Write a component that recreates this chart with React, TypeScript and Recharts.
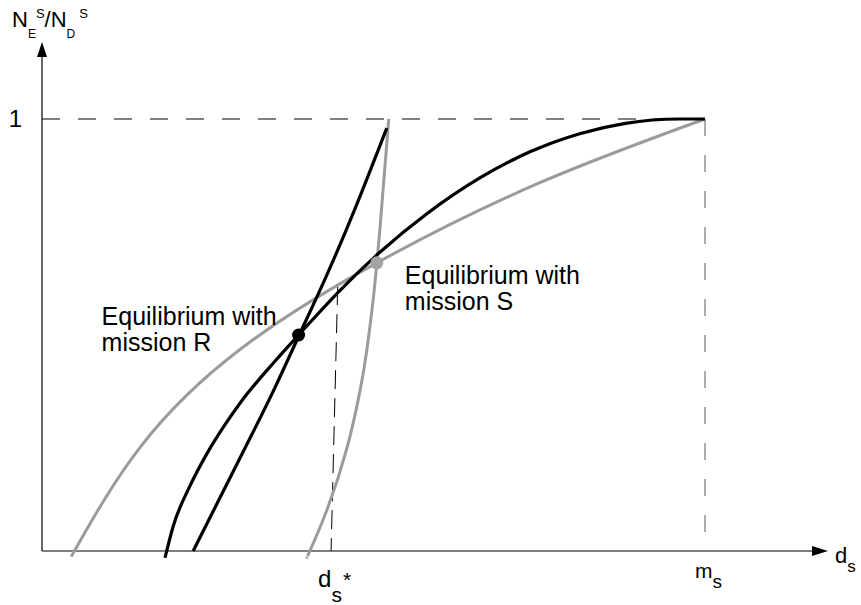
import React from 'react';
import { ComposedChart, Line, XAxis, YAxis, ReferenceLine, ReferenceDot } from 'recharts';

const FONT = '"Liberation Sans", Arial, sans-serif';
const BLACK = '#000000';
const GRAY = '#9b9b9b';

// horizontal axis: d_s scaled so that m_s = 1; vertical axis: N_E^S / N_D^S
const X_MAX = 1.1855;
const Y_MIN = -0.0625;
const Y_MAX = 1.1782;
const M_S = 1;
const D_S_STAR = 0.436;

// gray concave curve (mission S), ends at (m_s, 1)
const grayConcaveX = [0.044, 0.15, 0.3, 0.505, 0.75, 1];
const grayConcaveY = [-0.013, 0.244, 0.468, 0.667, 0.852, 1];

// gray steep convex curve (mission S)
const grayConvexX = [0.4, 0.404, 0.43, 0.46, 0.48, 0.49, 0.5, 0.505, 0.51, 0.523];
const grayConvexY = [-0.0135, 0, 0.096, 0.2385, 0.3735, 0.466, 0.5885, 0.667, 0.752, 1];

// black concave curve (mission R), flat at the top
const blackConcaveX = [0.1855, 0.198, 0.223, 0.249, 0.275, 0.3, 0.35, 0.387, 0.45, 0.51, 0.58, 0.661, 0.736, 0.811, 0.88, 0.96, 1];
const blackConcaveY = [-0.016, 0.058, 0.15, 0.226, 0.29, 0.345, 0.437, 0.5, 0.604, 0.692, 0.78, 0.864, 0.924, 0.966, 0.99, 1, 1];

// black steep curve (mission R)
const blackSteepX = [0.228, 0.268, 0.314, 0.351, 0.388, 0.427, 0.472, 0.52];
const blackSteepY = [0, 0.122, 0.262, 0.377, 0.5, 0.63, 0.792, 0.979];

const equilibriumR = { x: 0.387, y: 0.5 };
const equilibriumS = { x: 0.505, y: 0.667 };
const dsStarTop = { x: 0.446, y: 0.613 };

const toPoints = (xs: number[], ys: number[]) => xs.map((x, i) => ({ x, y: ys[i] }));

const grayConcave = toPoints(grayConcaveX, grayConcaveY);
const grayConvex = toPoints(grayConvexX, grayConvexY);
const blackConcave = toPoints(blackConcaveX, blackConcaveY);
const blackSteep = toPoints(blackSteepX, blackSteepY);

const ArrowUp = ({ cx, cy }: any) => (
  <polygon points={`${cx},${cy} ${cx - 5},${cy + 15} ${cx + 5},${cy + 15}`} fill={BLACK} />
);

const ArrowRight = ({ cx, cy }: any) => (
  <polygon points={`${cx},${cy} ${cx - 16},${cy - 5} ${cx - 16},${cy + 5}`} fill={BLACK} />
);

const YTitle = ({ cx, cy }: any) => (
  <text x={cx - 30} y={cy - 15} fontFamily={FONT} fontSize={22} fill={BLACK}>
    N
    <tspan dy={11} fontSize={12}>E</tspan>
    <tspan dy={-20} fontSize={13}>S</tspan>
    <tspan dy={9} fontSize={22}>/N</tspan>
    <tspan dy={11} fontSize={12}>D</tspan>
    <tspan dy={-20} dx={4} fontSize={13}>S</tspan>
  </text>
);

const OneTick = ({ cx, cy }: any) => (
  <text x={cx - 20} y={cy} dominantBaseline="central" textAnchor="end" fontFamily={FONT} fontSize={24} fill={BLACK}>
    1
  </text>
);

const XTitle = ({ cx, cy }: any) => (
  <text x={cx + 7} y={cy + 12} fontFamily={FONT} fontSize={22} fill={BLACK}>
    d
    <tspan dy={9} fontSize={17}>s</tspan>
  </text>
);

const MsTick = ({ cx, cy }: any) => (
  <text x={cx - 10} y={cy + 27} fontFamily={FONT} fontSize={21} fill={BLACK}>
    m
    <tspan dy={10} fontSize={19}>s</tspan>
  </text>
);

const DsStarTick = ({ cx, cy }: any) => (
  <text x={cx - 13} y={cy + 36} fontFamily={FONT} fontSize={24} fill={BLACK}>
    d
    <tspan dy={15} fontSize={21}>s</tspan>
    <tspan dy={-15} dx={1} fontSize={21}>*</tspan>
  </text>
);

const EquilibriumDot = (fill: string, label: string, dx: number, dy: number) => ({ cx, cy }: any) => (
  <g>
    <circle cx={cx} cy={cy} r={6.5} fill={fill} />
    <text x={cx + dx} y={cy + dy} fontFamily={FONT} fontSize={25} fill={BLACK}>
      <tspan x={cx + dx}>Equilibrium with</tspan>
      <tspan x={cx + dx} dy={26}>{label}</tspan>
    </text>
  </g>
);

export default function App() {
  return (
    <div style={{ position: 'absolute', left: 0, top: 0, background: '#fff' }}>
      <ComposedChart width={861} height={605} margin={{ top: 42, right: 33, bottom: 27, left: 42 }}>
        <XAxis type="number" dataKey="x" domain={[0, X_MAX]} hide allowDataOverflow />
        <YAxis type="number" dataKey="y" domain={[Y_MIN, Y_MAX]} hide allowDataOverflow />

        {/* axes */}
        <ReferenceLine segment={[{ x: 0, y: 0 }, { x: X_MAX - 0.02, y: 0 }]} stroke={BLACK} strokeWidth={1.2} ifOverflow="visible" />
        <ReferenceLine segment={[{ x: 0, y: 0 }, { x: 0, y: Y_MAX - 0.03 }]} stroke={BLACK} strokeWidth={1.2} ifOverflow="visible" />

        {/* guide lines */}
        <ReferenceLine segment={[{ x: 0, y: 1 }, { x: M_S, y: 1 }]} stroke={BLACK} strokeWidth={1} strokeDasharray="18 18" ifOverflow="visible" />
        <ReferenceLine segment={[{ x: M_S, y: 1 }, { x: M_S, y: 0 }]} stroke="#777" strokeWidth={1.2} strokeDasharray="17 19" ifOverflow="visible" />
        <ReferenceLine segment={[dsStarTop, { x: D_S_STAR, y: 0 }]} stroke={BLACK} strokeWidth={1} strokeDasharray="19 9" ifOverflow="visible" />

        <Line data={grayConcave} dataKey="y" type="natural" stroke={GRAY} strokeWidth={3} dot={false} activeDot={false} isAnimationActive={false} />
        <Line data={grayConvex} dataKey="y" type="natural" stroke={GRAY} strokeWidth={3} dot={false} activeDot={false} isAnimationActive={false} />
        <Line data={blackConcave} dataKey="y" type="monotone" stroke={BLACK} strokeWidth={3.2} dot={false} activeDot={false} isAnimationActive={false} />
        <Line data={blackSteep} dataKey="y" type="natural" stroke={BLACK} strokeWidth={3.2} dot={false} activeDot={false} isAnimationActive={false} />

        <ReferenceDot x={0} y={Y_MAX} r={0} ifOverflow="visible" shape={ArrowUp} />
        <ReferenceDot x={0} y={Y_MAX} r={0} ifOverflow="visible" shape={YTitle} />
        <ReferenceDot x={X_MAX} y={0} r={0} ifOverflow="visible" shape={ArrowRight} />
        <ReferenceDot x={X_MAX} y={0} r={0} ifOverflow="visible" shape={XTitle} />
        <ReferenceDot x={0} y={1} r={0} ifOverflow="visible" shape={OneTick} />
        <ReferenceDot x={M_S} y={0} r={0} ifOverflow="visible" shape={MsTick} />
        <ReferenceDot x={D_S_STAR} y={0} r={0} ifOverflow="visible" shape={DsStarTick} />

        <ReferenceDot {...equilibriumR} r={6.5} ifOverflow="visible" shape={EquilibriumDot(BLACK, 'mission R', -197, -10)} />
        <ReferenceDot {...equilibriumS} r={6.5} ifOverflow="visible" shape={EquilibriumDot('#a3a3a3', 'mission S', 28, 21)} />
      </ComposedChart>
    </div>
  );
}
